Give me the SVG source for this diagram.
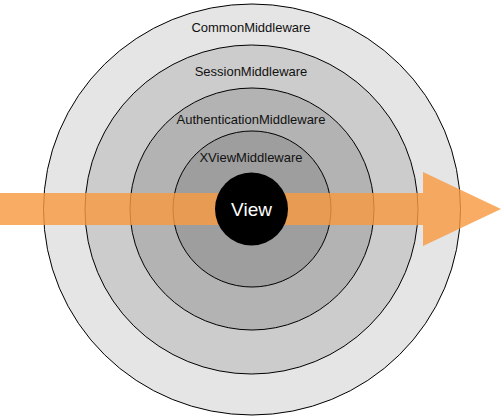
<svg xmlns="http://www.w3.org/2000/svg" width="502" height="417" viewBox="0 0 502 417">
<style>
.ring{stroke:#000;stroke-width:1}
.lbl{font-family:"Liberation Sans",Arial,Helvetica,sans-serif;font-size:13px;fill:#111;text-anchor:middle}
.view{font-family:"Liberation Sans",Arial,Helvetica,sans-serif;font-size:19px;fill:#fff;text-anchor:middle}
</style>
<rect width="502" height="417" fill="#fff"/>
<g id="common">
<ellipse class="ring" cx="252" cy="209.5" rx="208.5" ry="205.5" fill="#E5E5E5"/>
</g>
<g id="session">
<ellipse class="ring" cx="251.5" cy="209.5" rx="166.5" ry="164.5" fill="#CCCCCC"/>
</g>
<g id="auth">
<ellipse class="ring" cx="252" cy="209" rx="122" ry="121" fill="#B3B3B3"/>
</g>
<g id="xview">
<ellipse class="ring" cx="252" cy="209" rx="79" ry="78" fill="#9E9E9E"/>
</g>
<g id="connectors">
<polygon points="0,193 423,193 423,172 501,209 423,246 423,225 0,225" fill="rgb(248,154,66)" fill-opacity="0.82"/>
</g>
<g id="view">
<circle cx="251.5" cy="209" r="36.5" fill="#000"/>
<text class="view" x="251.5" y="216">View</text>
</g>
<g id="labels">
<text class="lbl" x="251" y="32">CommonMiddleware</text>
<text class="lbl" x="251" y="76">SessionMiddleware</text>
<text class="lbl" x="251" y="124">AuthenticationMiddleware</text>
<text class="lbl" x="251" y="162">XViewMiddleware</text>
</g>
</svg>
